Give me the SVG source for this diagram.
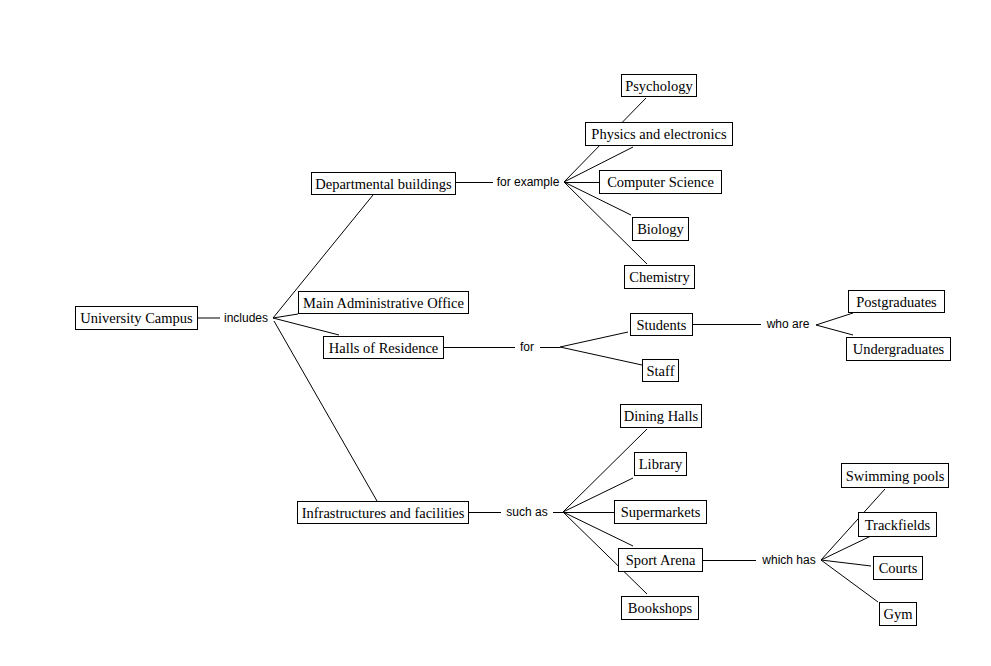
<svg xmlns="http://www.w3.org/2000/svg" width="991" height="666" viewBox="0 0 991 666">
<style>
.n rect{fill:#fff;stroke:#000;stroke-width:1}
.n text{font-family:"Liberation Serif","Times New Roman",serif;font-size:14.5px;fill:#000;text-anchor:middle;dominant-baseline:central}
.l text{font-family:"Liberation Sans",Arial,sans-serif;font-size:12px;fill:#000;text-anchor:middle;dominant-baseline:central}
#connectors line{stroke:#000;stroke-width:1;fill:none}
</style>
<rect width="991" height="666" fill="#fff"/>
<g id="connectors">
<line x1="197" y1="318" x2="220" y2="318"/>
<line x1="273" y1="318" x2="373" y2="195"/>
<line x1="273" y1="318" x2="298" y2="314"/>
<line x1="273" y1="318" x2="339" y2="335"/>
<line x1="274" y1="321" x2="377" y2="501"/>
<line x1="455" y1="182.5" x2="493" y2="182.5"/>
<line x1="564" y1="182" x2="646" y2="98"/>
<line x1="564" y1="182" x2="633" y2="147"/>
<line x1="564" y1="182.5" x2="600" y2="182.5"/>
<line x1="564" y1="182" x2="631" y2="215"/>
<line x1="564" y1="182" x2="647" y2="264"/>
<line x1="443" y1="347.5" x2="515" y2="347.5"/>
<line x1="540" y1="347.5" x2="560" y2="347.5"/>
<line x1="560" y1="347" x2="628" y2="332"/>
<line x1="560" y1="347" x2="642" y2="365"/>
<line x1="692" y1="324.5" x2="761" y2="324.5"/>
<line x1="816" y1="325" x2="853" y2="313"/>
<line x1="816" y1="325" x2="853" y2="335"/>
<line x1="468" y1="512.5" x2="501" y2="512.5"/>
<line x1="553" y1="512.5" x2="563" y2="512.5"/>
<line x1="563" y1="512" x2="647" y2="429"/>
<line x1="563" y1="512" x2="633" y2="478"/>
<line x1="563" y1="512.5" x2="614" y2="512.5"/>
<line x1="563" y1="512" x2="633" y2="546"/>
<line x1="563" y1="512" x2="647" y2="594"/>
<line x1="702" y1="560.5" x2="756" y2="560.5"/>
<line x1="821" y1="560" x2="885" y2="489"/>
<line x1="821" y1="560" x2="873" y2="535"/>
<line x1="821" y1="560" x2="871" y2="566"/>
<line x1="821" y1="560" x2="878" y2="602"/>
</g>
<g id="label-includes" class="l"><text x="246" y="318">includes</text></g>
<g id="label-for-example" class="l"><text x="528" y="182">for example</text></g>
<g id="label-for" class="l"><text x="527" y="347">for</text></g>
<g id="label-who-are" class="l"><text x="788" y="324">who are</text></g>
<g id="label-such-as" class="l"><text x="527" y="512">such as</text></g>
<g id="label-which-has" class="l"><text x="789" y="560">which has</text></g>

<g id="university-campus" class="n"><rect x="75.5" y="306.5" width="122" height="23"/><text x="136.5" y="318">University Campus</text></g>
<g id="departmental-buildings" class="n"><rect x="311.5" y="172.5" width="144" height="22"/><text x="383.5" y="183.5">Departmental buildings</text></g>
<g id="main-administrative-office" class="n"><rect x="298.5" y="291.5" width="170" height="22"/><text x="383.5" y="302.5">Main Administrative Office</text></g>
<g id="halls-of-residence" class="n"><rect x="323.5" y="336.5" width="120" height="22"/><text x="383.5" y="347.5">Halls of Residence</text></g>
<g id="infrastructures" class="n"><rect x="297.5" y="501.5" width="171" height="22"/><text x="383" y="512.5">Infrastructures and facilities</text></g>
<g id="psychology" class="n"><rect x="621.5" y="74.5" width="75" height="22"/><text x="659" y="85.5">Psychology</text></g>
<g id="physics" class="n"><rect x="585.5" y="122.5" width="147" height="23"/><text x="659" y="134">Physics and electronics</text></g>
<g id="computer-science" class="n"><rect x="599.5" y="170.5" width="122" height="23"/><text x="660.5" y="182">Computer Science</text></g>
<g id="biology" class="n"><rect x="632.5" y="217.5" width="56" height="23"/><text x="660.5" y="229">Biology</text></g>
<g id="chemistry" class="n"><rect x="624.5" y="265.5" width="70" height="23"/><text x="659.5" y="277">Chemistry</text></g>
<g id="students" class="n"><rect x="630.5" y="313.5" width="62" height="22"/><text x="661.5" y="324.5">Students</text></g>
<g id="staff" class="n"><rect x="642.5" y="359.5" width="36" height="22"/><text x="660.5" y="370.5">Staff</text></g>
<g id="postgraduates" class="n"><rect x="848.5" y="290.5" width="96" height="22"/><text x="896.5" y="301.5">Postgraduates</text></g>
<g id="undergraduates" class="n"><rect x="846.5" y="337.5" width="104" height="23"/><text x="898.5" y="349">Undergraduates</text></g>
<g id="dining-halls" class="n"><rect x="620.5" y="404.5" width="81" height="23"/><text x="661" y="416">Dining Halls</text></g>
<g id="library" class="n"><rect x="634.5" y="452.5" width="52" height="23"/><text x="660.5" y="464">Library</text></g>
<g id="supermarkets" class="n"><rect x="614.5" y="500.5" width="92" height="23"/><text x="660.5" y="512">Supermarkets</text></g>
<g id="sport-arena" class="n"><rect x="618.5" y="548.5" width="84" height="23"/><text x="660.5" y="560">Sport Arena</text></g>
<g id="bookshops" class="n"><rect x="621.5" y="596.5" width="77" height="23"/><text x="660" y="608">Bookshops</text></g>
<g id="swimming-pools" class="n"><rect x="841.5" y="463.5" width="107" height="24"/><text x="895" y="475.5">Swimming pools</text></g>
<g id="trackfields" class="n"><rect x="858.5" y="512.5" width="78" height="24"/><text x="897.5" y="524.5">Trackfields</text></g>
<g id="courts" class="n"><rect x="873.5" y="556.5" width="49" height="23"/><text x="898" y="568">Courts</text></g>
<g id="gym" class="n"><rect x="879.5" y="602.5" width="37" height="23"/><text x="898" y="614">Gym</text></g>
</svg>
